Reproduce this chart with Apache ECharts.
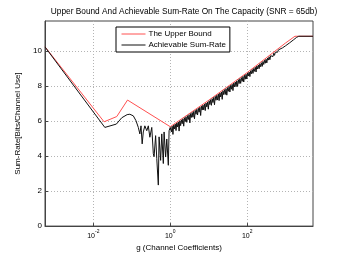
<!DOCTYPE html>
<html>
<head>
<meta charset="utf-8">
<script src="https://cdn.jsdelivr.net/npm/echarts@6/dist/echarts.min.js"></script>
<style>
html,body{margin:0;padding:0;background:#fff;}
#c{width:346px;height:257px;}
</style>
</head>
<body>
<div id="c"></div>
<script>
// Exponents of g (log10 of channel coefficient) and rates
var boundExp  = [-3.255, -1.72, -1.39, -1.11, 0.00, 1.00, 2.00, 3.00, 3.24, 3.71];
var boundRate = [10.23, 5.95, 6.25, 7.19, 5.67, 7.18, 8.76, 10.45, 10.83, 10.83];

var achExp = [
  -3.255, -1.70, -1.40, -1.26, -1.12, -1.05, -0.96, -0.89, -0.83, -0.79,
  -0.76, -0.73, -0.70, -0.66, -0.61, -0.57, -0.53, -0.48, -0.44, -0.42,
  -0.38, -0.35, -0.31, -0.29, -0.25, -0.22, -0.18, -0.16, -0.12, -0.09,
  -0.05, -0.03, 0.00,
  0.01, 0.03, 0.05, 0.07, 0.09, 0.11, 0.13, 0.15, 0.17, 0.19,
  0.21, 0.23, 0.25, 0.27, 0.29, 0.31, 0.33, 0.35, 0.37, 0.39,
  0.41, 0.43, 0.45, 0.47, 0.49, 0.51, 0.53, 0.55, 0.57, 0.59,
  0.61, 0.63, 0.65, 0.67, 0.69, 0.71, 0.73, 0.75, 0.77, 0.79,
  0.81, 0.83, 0.85, 0.87, 0.89, 0.91, 0.93, 0.95, 0.97, 0.99,
  1.01, 1.03, 1.05, 1.07, 1.09, 1.11, 1.13, 1.15, 1.17, 1.19,
  1.21, 1.23, 1.25, 1.27, 1.29, 1.31, 1.33, 1.35, 1.37, 1.39,
  1.41, 1.43, 1.45, 1.47, 1.49, 1.51, 1.53, 1.55, 1.57, 1.59,
  1.61, 1.63, 1.65, 1.67, 1.69, 1.71, 1.73, 1.75, 1.77, 1.79,
  1.81, 1.83, 1.85, 1.87, 1.89, 1.91, 1.93, 1.95, 1.97, 1.99,
  2.01, 2.03, 2.05, 2.07, 2.09, 2.11, 2.13, 2.15, 2.17, 2.19,
  2.21, 2.23, 2.25, 2.27, 2.29, 2.31, 2.33, 2.35, 2.37, 2.39,
  2.41, 2.43, 2.45, 2.47, 2.49, 2.51, 2.53, 2.55, 2.57, 2.59,
  2.61, 2.63, 2.65, 2.67, 2.69, 2.71, 2.73, 2.75, 2.77, 2.79,
  2.81, 2.83, 2.85,
  2.92, 3.00, 3.10, 3.20, 3.28, 3.34, 3.71
];
var achRate = [
  10.22, 5.63, 5.82, 6.18, 6.36, 6.38, 6.29, 6.01, 5.63, 5.26,
  5.72, 4.69, 5.37, 5.72, 5.44, 5.72, 5.07, 5.63, 4.13, 3.96,
  5.16, 3.85, 2.34, 5.09, 3.75, 5.26, 3.57, 5.37, 3.94, 4.97,
  3.47, 5.44, 5.63,
  5.64, 5.37, 5.70, 5.23, 5.76, 5.54, 5.82, 5.45, 5.88, 5.66,
  5.94, 5.42, 6.00, 5.73, 6.06, 5.84, 6.12, 5.70, 6.18, 5.96,
  6.24, 5.92, 6.30, 6.08, 6.36, 5.89, 6.42, 6.20, 6.48, 6.21,
  6.54, 6.12, 6.60, 6.38, 6.66, 6.34, 6.72, 6.50, 6.78, 6.31,
  6.84, 6.62, 6.90, 6.63, 6.96, 6.59, 7.02, 6.80, 7.08, 6.67,
  7.15, 6.93, 7.21, 6.89, 7.27, 7.05, 7.34, 6.92, 7.40, 7.18,
  7.46, 7.19, 7.53, 7.16, 7.59, 7.37, 7.65, 7.23, 7.72, 7.50,
  7.78, 7.51, 7.84, 7.47, 7.90, 7.69, 7.97, 7.65, 8.03, 7.81,
  8.09, 7.73, 8.16, 7.94, 8.22, 7.95, 8.28, 7.97, 8.35, 8.13,
  8.41, 8.14, 8.47, 8.26, 8.54, 8.22, 8.60, 8.38, 8.66, 8.39,
  8.73, 8.56, 8.79, 8.53, 8.86, 8.69, 8.93, 8.71, 8.99, 8.83,
  9.06, 8.79, 9.13, 8.96, 9.19, 8.98, 9.26, 9.09, 9.32, 9.11,
  9.39, 9.22, 9.46, 9.29, 9.52, 9.31, 9.59, 9.47, 9.66, 9.49,
  9.72, 9.61, 9.79, 9.67, 9.86, 9.74, 9.92, 9.81, 9.99, 9.92,
  10.05, 9.99, 10.10,
  10.17, 10.29, 10.45, 10.62, 10.76, 10.83, 10.83
];

var xTickValues = [0.01, 1, 100];
var yTickValues = [0, 2, 4, 6, 8, 10];

var seriesNames = ['The Upper Bound', 'Achievable Sum-Rate'];

function toPairs(ex, ys) {
  var out = [];
  for (var i = 0; i < ex.length; i++) out.push([Math.pow(10, ex[i]), ys[i]]);
  return out;
}

var font = 'Liberation Sans, Arial, Helvetica, sans-serif';
var chart = echarts.init(document.getElementById('c'), null, {renderer: 'canvas'});
chart.setOption({
  animation: false,
  backgroundColor: '#fff',
  title: {
    text: 'Upper Bound And Achievable Sum-Rate On The Capacity (SNR = 65db)',
    left: 179, top: 3, textAlign: 'center',
    textStyle: {fontSize: 8.3, fontWeight: 'normal', color: '#000', fontFamily: font}
  },
  grid: {left: 45, right: 33, top: 21, bottom: 29, show: true, borderColor: '#444', borderWidth: 1, backgroundColor: 'transparent'},
  legend: {
    data: seriesNames,
    orient: 'vertical',
    left: 116, top: 27,
    padding: [3, 4, 3, 5],
    itemGap: 3,
    itemWidth: 24, itemHeight: 8,
    itemStyle: {opacity: 0},
    lineStyle: {width: 1},
    backgroundColor: '#fff',
    borderColor: '#000', borderWidth: 1, borderRadius: 0,
    textStyle: {fontSize: 8, color: '#000', fontFamily: font, padding: [0,0,0,-2]}
  },
  xAxis: {
    type: 'log',
    logBase: 10,
    min: Math.pow(10, -3.255),
    max: Math.pow(10, 3.71),
    name: 'g (Channel Coefficients)',
    nameLocation: 'middle',
    nameGap: 15,
    nameTextStyle: {fontSize: 8, color: '#000', fontFamily: font},
    axisLine: {show: true, lineStyle: {color: '#444', width: 1}},
    axisTick: {show: true, inside: true, length: 3, customValues: xTickValues, lineStyle: {color: '#444'}},
    axisLabel: {
      customValues: xTickValues,
      margin: 3,
      color: '#000',
      fontFamily: font,
      formatter: function (v) {
        var e = Math.round(Math.log(v) / Math.LN10);
        return '{b|10}{s|' + e + '}';
      },
      rich: {
        b: {fontSize: 7, lineHeight: 10, verticalAlign: 'bottom', fontFamily: font, color: '#000'},
        s: {fontSize: 5, lineHeight: 5, verticalAlign: 'top', fontFamily: font, color: '#000'}
      }
    },
    splitLine: {show: true, lineStyle: {color: '#b4b4b4', type: [1, 2], width: 1}}
  },
  yAxis: {
    type: 'value',
    min: 0, max: 11.7,
    name: 'Sum-Rate[Bits/Channel Use]',
    nameLocation: 'middle',
    nameGap: 16,
    nameTextStyle: {fontSize: 8, color: '#000', fontFamily: font},
    axisLine: {show: true, lineStyle: {color: '#444', width: 1}},
    axisTick: {show: true, inside: true, length: 3, customValues: yTickValues, lineStyle: {color: '#444'}},
    axisLabel: {customValues: yTickValues, margin: 3, fontSize: 8, color: '#000', fontFamily: font},
    splitLine: {show: true, lineStyle: {color: '#b4b4b4', type: [1, 2], width: 1}}
  },
  series: [
    {
      name: seriesNames[0], type: 'line', symbol: 'none',
      lineStyle: {color: '#ff5050', width: 1},
      itemStyle: {color: '#ff5050'},
      data: toPairs(boundExp, boundRate), z: 2
    },
    {
      name: seriesNames[1], type: 'line', symbol: 'none',
      lineStyle: {color: '#111', width: 1},
      itemStyle: {color: '#111'},
      data: toPairs(achExp, achRate), z: 3
    }
  ]
});
</script>
</body>
</html>
